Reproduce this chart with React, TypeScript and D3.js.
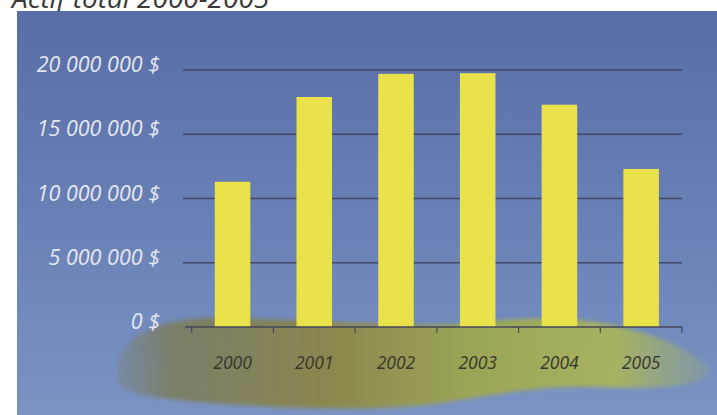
import React from "react";
import * as d3 from "d3";

const years = ["2000", "2001", "2002", "2003", "2004", "2005"];
const totals = [11300000, 17900000, 19700000, 19750000, 17300000, 12300000];
const yTicks = [0, 5000000, 10000000, 15000000, 20000000];
const yTickLabels = ["0 $", "5 000 000 $", "10 000 000 $", "15 000 000 $", "20 000 000 $"];
const title = "Actif total 2000-2005";

const W = 717;
const H = 415;

export default function App() {
  const x = d3
    .scaleBand<string>()
    .domain(years)
    .range([191.7, 682])
    .paddingInner(0.565)
    .paddingOuter(0.2825);
  const y = d3.scaleLinear().domain([0, 20000000]).range([327, 70]);
  const tickXs = years.map((yr) => x(yr)! - (x.step() * x.paddingInner()) / 2);
  tickXs.push(x("2005")! + x.bandwidth() + (x.step() * x.paddingInner()) / 2);

  const font = "'Open Sans', 'Lato', sans-serif";
  const swoosh =
    "M 118 382 C 112 334, 160 316, 230 318 C 330 321, 420 328, 470 323 C 520 318, 560 317, 600 323 C 650 331, 692 348, 710 370 C 702 388, 660 389, 600 387 C 540 385, 500 394, 440 403 C 380 411, 300 410, 200 402 C 150 398, 122 393, 118 382 Z";

  return (
    <svg
      width={W}
      height={H}
      style={{ position: "absolute", left: 0, top: 0, background: "#ffffff" }}
    >
      <defs>
        <linearGradient id="bg" x1="0" y1="0" x2="0" y2="1">
          <stop offset="0" stopColor="#596da7" />
          <stop offset="0.5" stopColor="#6880b5" />
          <stop offset="1" stopColor="#7b93c3" />
        </linearGradient>
        <linearGradient id="sw" x1="112" y1="0" x2="712" y2="0" gradientUnits="userSpaceOnUse">
          <stop offset="0" stopColor="#7a7d66" stopOpacity="0.25" />
          <stop offset="0.1" stopColor="#7b7c5a" stopOpacity="0.85" />
          <stop offset="0.35" stopColor="#8a864f" stopOpacity="1" />
          <stop offset="0.6" stopColor="#9ca556" stopOpacity="1" />
          <stop offset="0.84" stopColor="#a9b55c" stopOpacity="0.95" />
          <stop offset="1" stopColor="#9fae6a" stopOpacity="0.25" />
        </linearGradient>
        <filter id="blur" x="-10%" y="-20%" width="120%" height="140%">
          <feGaussianBlur stdDeviation="2.2" />
        </filter>
      </defs>

      <text
        x={12}
        y={8}
        fontFamily={font}
        fontStyle="italic"
        fontSize={28}
        fill="#3a3a3a"
      >
        {title}
      </text>

      <rect x={17} y={11} width={W - 17} height={H - 11} fill="url(#bg)" />

      <path d={swoosh} fill="url(#sw)" filter="url(#blur)" />

      {yTicks.slice(1).map((t) => (
        <line
          key={t}
          x1={183}
          x2={682}
          y1={y(t)}
          y2={y(t)}
          stroke="#414766"
          strokeWidth={1.4}
        />
      ))}

      {totals.map((v, i) => (
        <rect
          key={years[i]}
          x={x(years[i])}
          y={y(v)}
          width={x.bandwidth()}
          height={y(0) - y(v)}
          fill="#e9e24a"
        />
      ))}

      <line x1={185} x2={682} y1={y(0)} y2={y(0)} stroke="#44465a" strokeWidth={1.3} />
      {tickXs.map((tx, i) => (
        <line key={i} x1={tx} x2={tx} y1={y(0)} y2={y(0) + 6} stroke="#44465a" strokeWidth={1.2} />
      ))}

      {yTicks.map((t, i) => (
        <text
          key={t}
          x={160}
          y={y(t) + 2}
          textAnchor="end"
          fontFamily={font}
          fontStyle="italic"
          fontSize={21.5}
          fill="#e4e7f1"
        >
          {yTickLabels[i]}
        </text>
      ))}

      {years.map((yr) => (
        <text
          key={yr}
          x={x(yr)! + x.bandwidth() / 2}
          y={369}
          textAnchor="middle"
          fontFamily={font}
          fontStyle="italic"
          fontSize={17.5}
          fill="#36362c"
        >
          {yr}
        </text>
      ))}
    </svg>
  );
}
